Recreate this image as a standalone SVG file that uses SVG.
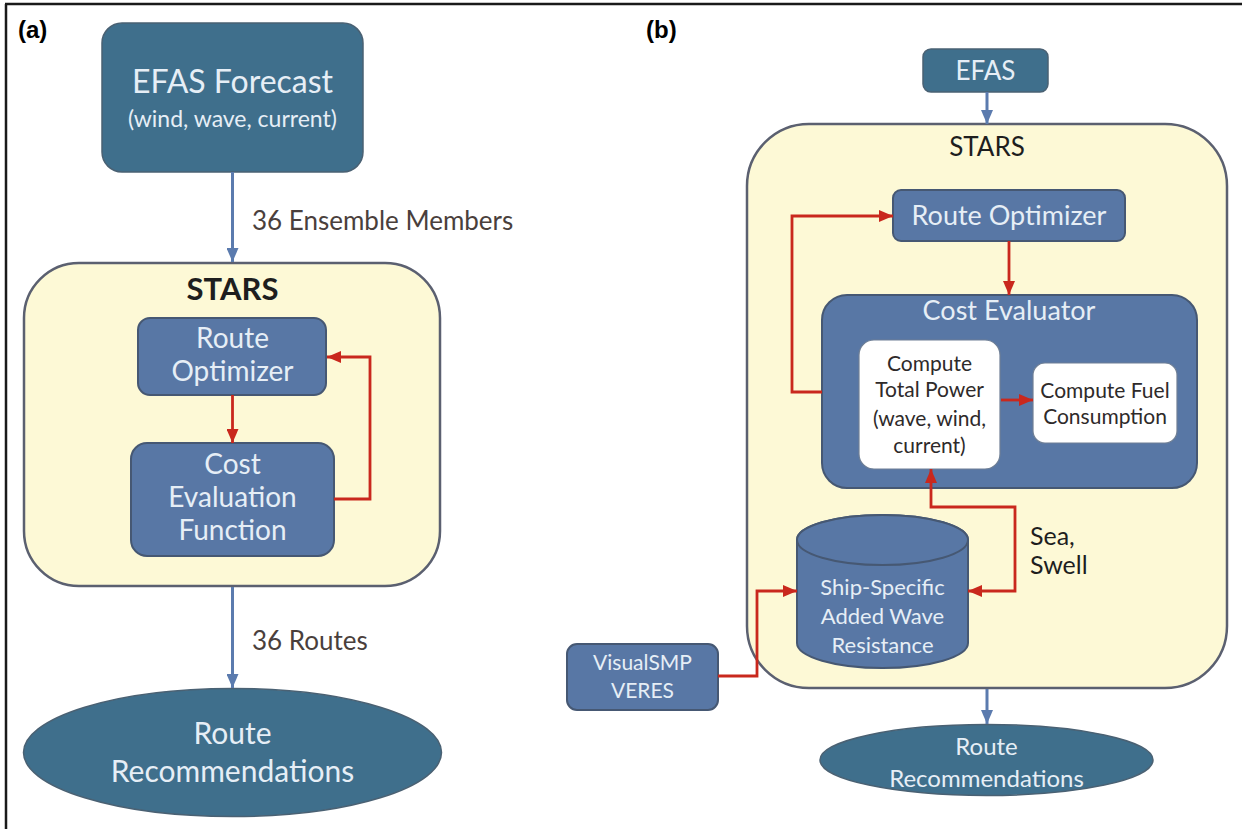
<svg xmlns="http://www.w3.org/2000/svg" width="1242" height="829" viewBox="0 0 1242 829">
<style>
.lbl{font-family:Lato,"Liberation Sans",sans-serif;fill:#e6eef6;text-anchor:middle}
.dark{font-family:Lato,"Liberation Sans",sans-serif;fill:#2e2a2a}
.tag{font-family:"Liberation Sans",Arial,sans-serif;font-weight:bold;font-size:24px;fill:#000}
.teal{fill:#3f6f8c;stroke:#4a6173;stroke-width:1.5}
.slate{fill:#5877a5;stroke:#465873;stroke-width:2}
.wbox{fill:#ffffff;stroke:#6f7f95;stroke-width:1.2}
.stars{fill:#fdf9d6;stroke:#5b6070;stroke-width:2.5}
.blue{stroke:#5b7bae;stroke-width:3;fill:none}
.red{stroke:#c9281d;stroke-width:2.8;fill:none}
</style>
<defs>
<marker id="ab" markerUnits="userSpaceOnUse" markerWidth="14" markerHeight="12" refX="14" refY="6" orient="auto-start-reverse"><path d="M0,0 L14,6 L0,12 z" fill="#5b7bae"/></marker>
<marker id="ar" markerUnits="userSpaceOnUse" markerWidth="14" markerHeight="12" refX="14" refY="6" orient="auto-start-reverse"><path d="M0,0 L14,6 L0,12 z" fill="#c9281d"/></marker>
</defs>
<path d="M5,4 H1242 M6,4 V829" stroke="#1a1a1a" stroke-width="2.5" fill="none"/>
<text class="tag" x="18" y="38">(a)</text>
<text class="tag" x="646" y="38">(b)</text>

<g id="a-efas"><rect class="teal" x="102" y="23" width="261" height="149" rx="20"/>
<text class="lbl" x="232.5" y="93" font-size="32">EFAS Forecast</text>
<text class="lbl" x="232.5" y="127" font-size="23">(wind, wave, current)</text></g>
<g id="a-stars"><rect class="stars" x="24" y="263" width="416" height="323" rx="55"/>
<text x="232.5" y="300" font-family="Lato,'Liberation Sans',sans-serif" font-weight="bold" font-size="31" fill="#1e1e1e" text-anchor="middle">STARS</text></g>
<g id="a-opt"><rect class="slate" x="138" y="318" width="188" height="77" rx="12"/>
<text class="lbl" x="232.5" y="348" font-size="28">Route</text>
<text class="lbl" x="232.5" y="381" font-size="28">Optimizer</text></g>
<g id="a-cost"><rect class="slate" x="131" y="443" width="203" height="113" rx="16"/>
<text class="lbl" x="232.5" y="474" font-size="28">Cost</text>
<text class="lbl" x="232.5" y="507" font-size="28">Evaluation</text>
<text class="lbl" x="232.5" y="540" font-size="28">Function</text></g>
<g id="a-rec"><ellipse class="teal" cx="232.5" cy="752.5" rx="209" ry="64"/>
<text class="lbl" x="232.5" y="744" font-size="30">Route</text>
<text class="lbl" x="232.5" y="782" font-size="30">Recommendations</text></g>

<g id="b-efas"><rect class="teal" x="923" y="49" width="125" height="43" rx="8"/>
<text class="lbl" x="985.5" y="80" font-size="26">EFAS</text></g>
<g id="b-stars"><rect class="stars" x="747" y="124" width="480" height="564" rx="62"/>
<text x="987" y="156" font-family="Lato,'Liberation Sans',sans-serif" font-size="26" fill="#1e1e1e" text-anchor="middle">STARS</text></g>
<g id="b-opt"><rect class="slate" x="893" y="190" width="232" height="51" rx="8"/>
<text class="lbl" x="1009" y="225" font-size="27">Route Optimizer</text></g>
<g id="b-cost"><rect class="slate" x="822" y="295" width="375" height="193" rx="25"/>
<text class="lbl" x="1009" y="320" font-size="27">Cost Evaluator</text></g>
<g id="b-power"><rect class="wbox" x="859" y="340" width="141" height="129" rx="15"/>
<text class="dark" x="929.5" y="371" font-size="21" text-anchor="middle">Compute</text>
<text class="dark" x="929.5" y="397" font-size="21" text-anchor="middle">Total Power</text>
<text class="dark" x="929.5" y="426" font-size="21" text-anchor="middle">(wave, wind,</text>
<text class="dark" x="929.5" y="453" font-size="21" text-anchor="middle">current)</text></g>
<g id="b-fuel"><rect class="wbox" x="1033" y="363" width="144" height="80" rx="12"/>
<text class="dark" x="1105" y="398" font-size="21" text-anchor="middle">Compute Fuel</text>
<text class="dark" x="1105" y="424" font-size="21" text-anchor="middle">Consumption</text></g>
<g id="b-wave"><path class="slate" d="M797,540 V643 A85.5,25 0 0 0 968,643 V540 A85.5,25 0 0 0 797,540 Z"/>
<ellipse class="slate" cx="882.5" cy="540" rx="85.5" ry="25"/>
<text class="lbl" x="882.5" y="595" font-size="22">Ship-Specific</text>
<text class="lbl" x="882.5" y="624" font-size="22">Added Wave</text>
<text class="lbl" x="882.5" y="653" font-size="22">Resistance</text></g>
<g id="b-veres"><rect class="slate" x="567" y="644" width="151" height="66" rx="10"/>
<text class="lbl" x="642.5" y="670" font-size="21">VisualSMP</text>
<text class="lbl" x="642.5" y="698" font-size="21">VERES</text></g>
<g id="b-rec"><ellipse class="teal" cx="986.5" cy="760" rx="166.5" ry="35.5"/>
<text class="lbl" x="986.5" y="755" font-size="24">Route</text>
<text class="lbl" x="986.5" y="787" font-size="24">Recommendations</text></g>

<g id="connectors">
<path class="blue" d="M232.5,172 V262" marker-end="url(#ab)"/>
<path class="blue" d="M232.5,587 V688" marker-end="url(#ab)"/>
<path class="red" d="M232.5,395 V443" marker-end="url(#ar)"/>
<path class="red" d="M334,499 H370 V357 H327" marker-end="url(#ar)"/>
<path class="blue" d="M987,92 V124" marker-end="url(#ab)"/>
<path class="blue" d="M987,689 V724" marker-end="url(#ab)"/>
<path class="red" d="M1009,241 V295" marker-end="url(#ar)"/>
<path class="red" d="M822,392 H792 V216 H893" marker-end="url(#ar)"/>
<path class="red" d="M1001,400 H1033" marker-end="url(#ar)"/>
<path class="red" d="M968,591 H1015 V507 H931 V469" marker-start="url(#ar)" marker-end="url(#ar)"/>
<path class="red" d="M718,676 H757 V591 H797" marker-end="url(#ar)"/>
</g>
<text x="252" y="230" font-family="Lato,'Liberation Sans',sans-serif" font-size="26" fill="#4a3f3c">36 Ensemble Members</text>
<text x="252" y="650" font-family="Lato,'Liberation Sans',sans-serif" font-size="26" fill="#4a3f3c">36 Routes</text>
<text x="1030" y="545" font-family="Lato,'Liberation Sans',sans-serif" font-size="25" fill="#1e1e1e">Sea,</text>
<text x="1030" y="574" font-family="Lato,'Liberation Sans',sans-serif" font-size="25" fill="#1e1e1e">Swell</text>
</svg>
